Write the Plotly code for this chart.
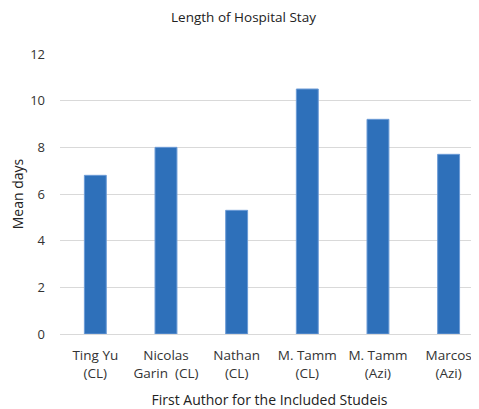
import plotly.graph_objects as go

categories = ["Ting Yu<br>(CL)", "Nicolas<br>Garin  (CL)", "Nathan<br>(CL)",
              "M. Tamm<br>(CL)", "M. Tamm<br>(Azi)", "Marcos<br>(Azi)"]
mean_days = [6.8, 8.0, 5.3, 10.5, 9.2, 7.7]
y_ticks = [0, 2, 4, 6, 8, 10, 12]

font_family = "Open Sans, Liberation Sans, sans-serif"

# the page body adds an 8px offset; the figure is sized to fit inside the window
W, H = 471, 401

fig = go.Figure(go.Bar(
    x=categories, y=mean_days,
    marker=dict(color="#2E70BA", line=dict(color="#6C9BD6", width=1)),
    width=0.31,
))

fig.update_layout(
    width=W, height=H,
    margin=dict(l=52, r=0, t=46, b=75),
    paper_bgcolor="white", plot_bgcolor="white",
    title=dict(text="Length of Hospital Stay", x=0.5, xanchor="center",
               y=1 - 9.5 / H, yanchor="middle",
               font=dict(family=font_family, size=13.5, color="#222222")),
    font=dict(family=font_family, size=13, color="#333333"),
    showlegend=False,
    xaxis=dict(
        title=dict(text="First Author for the Included Studeis", standoff=15,
                   font=dict(size=14, color="#222222")),
        automargin=False, range=[-0.5, 5.43],
        showgrid=False, showline=True, linecolor="#D9D9D9", linewidth=1,
        ticks="", ticklabelstandoff=9, tickfont=dict(size=13.5, color="#333333"),
    ),
    yaxis=dict(
        title=dict(text="Mean days", standoff=11, font=dict(size=14, color="#222222")),
        automargin=False,
        range=[0, 12], tickvals=y_ticks, showgrid=True, gridcolor="#D9D9D9",
        gridwidth=1, zeroline=False, ticks="", ticklen=0, ticklabelstandoff=14,
        tickfont=dict(size=13, color="#333333"),
    ),
)

fig.write_html("out.html")
